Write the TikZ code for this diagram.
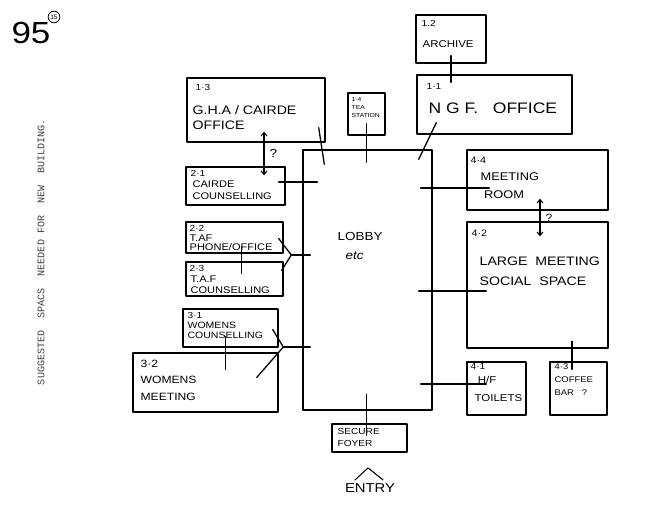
\documentclass[tikz,border=0pt]{standalone}
\usepackage{fontspec}
\setmainfont{Liberation Sans}
\newfontfamily\hand[FakeStretch=1.15]{Liberation Sans}
\newfontfamily\typew{Liberation Mono}
\usetikzlibrary{calc,fit,arrows.meta}
\begin{document}
\begin{tikzpicture}[x=0.03cm,y=-0.03cm,
  line width=1.1pt, line cap=round, line join=round,
  room/.style={draw, inner sep=0pt, line width=1.2pt},
  num/.style={anchor=north west, inner sep=0pt, font=\hand\fontsize{7.5}{8}\selectfont},
  lbl/.style={anchor=north west, inner sep=0pt, align=left},
  twoway/.style={{Straight Barb[length=3pt,width=5pt]}-{Straight Barb[length=3pt,width=5pt]}, line width=0.9pt}]
\fill[white] (0,0) rectangle (654,514);
\useasboundingbox (0,0) rectangle (654,514);

% page marks
\node[inner sep=0pt, font=\hand\fontsize{26}{26}\selectfont] (pg) at (31,33) {95};
\node[draw, circle, inner sep=1pt, line width=0.7pt, font=\fontsize{5.5}{5.5}\selectfont] (pgc) at (54,17) {15};
\node[rotate=90, inner sep=0pt, text=black!75, font=\typew\fontsize{8.6}{9}\selectfont] (title) at (41,252)
  {SUGGESTED\ \ SPACS\ \ NEEDED FOR\ \ NEW\ \ BUILDING.};

% rooms
\node[room, fit={(416,15)(486,63)}] (arch) {};
\node[room, fit={(417,75)(572,134)}] (ngf) {};
\node[room, fit={(187,78)(325,142)}] (gha) {};
\node[room, fit={(348,93)(385,135)}] (tea) {};
\node[room, fit={(303,150)(432,410)}] (lobby) {};
\node[room, fit={(186,167)(285,205)}] (c21) {};
\node[room, fit={(186,222)(283,253)}] (c22) {};
\node[room, fit={(186,262)(283,296)}] (c23) {};
\node[room, fit={(183,309)(278,347)}] (c31) {};
\node[room, fit={(133,353)(278,412)}] (c32) {};
\node[room, fit={(467,150)(608,210)}] (c44) {};
\node[room, fit={(467,222)(608,348)}] (c42) {};
\node[room, fit={(467,362)(526,415)}] (c41) {};
\node[room, fit={(550,362)(607,415)}] (c43) {};
\node[room, fit={(332,424)(407,452)}] (foyer) {};

% labels
\node[num] (arch-n) at (421,20) {1.2};
\node[lbl, font=\hand\fontsize{8.5}{10}\selectfont] (arch-t) at (422,40) {ARCHIVE};
\node[num] (ngf-n) at (426,83) {1·1};
\node[lbl, font=\hand\fontsize{13}{15}\selectfont] (ngf-t) at (428,102) {N G F.\ \ \ OFFICE};
\node[num] (gha-n) at (195,84) {1·3};
\node[lbl, font=\hand\fontsize{10.5}{12.8}\selectfont] (gha-t) at (192,105) {G.H.A / CAIRDE\\OFFICE};
\node[lbl, font=\hand\fontsize{5}{6.6}\selectfont] (tea-t) at (351,97) {1·4\\TEA\\STATION};
\node[num] (c21-n) at (190,170) {2·1};
\node[lbl, font=\hand\fontsize{8.2}{10.2}\selectfont] (c21-t) at (192,180) {CAIRDE\\COUNSELLING};
\node[num] (c22-n) at (189,225) {2·2};
\node[lbl, font=\hand\fontsize{8.2}{8}\selectfont] (c22-t) at (189,234) {T.AF\\PHONE/OFFICE};
\node[num] (c23-n) at (189,265) {2·3};
\node[lbl, font=\hand\fontsize{8.2}{9.4}\selectfont] (c23-t) at (190,275) {T.A.F\\COUNSELLING};
\node[num] (c31-n) at (187,312) {3·1};
\node[lbl, font=\hand\fontsize{7.8}{9}\selectfont] (c31-t) at (187,321) {WOMENS\\COUNSELLING};
\node[lbl, font=\hand\fontsize{9}{14.5}\selectfont] (c32-t) at (140,359) {3·2\\WOMENS\\MEETING};
\node[lbl, font=\hand\fontsize{8}{10}\selectfont] (c44-n) at (470,156) {4·4};
\node[lbl, font=\hand\fontsize{9.5}{15.5}\selectfont] (c44-t) at (480,172) {MEETING\\\ ROOM};
\node[lbl, font=\hand\fontsize{8}{10}\selectfont] (c42-n) at (471,229) {4·2};
\node[lbl, font=\hand\fontsize{10.5}{17}\selectfont] (c42-t) at (479,256) {LARGE\ \ MEETING\\SOCIAL\ \ SPACE};
\node[lbl, font=\hand\fontsize{7.5}{10}\selectfont] (c41-n) at (470,363) {4·1};
\node[lbl, font=\hand\fontsize{8.5}{15}\selectfont] (c41-t) at (474,376) {\ H/F\\TOILETS};
\node[lbl, font=\hand\fontsize{7}{11}\selectfont] (c43-t) at (554,363) {4·3\\COFFEE\\BAR\ \ \ ?};
\node[lbl, font=\hand\fontsize{7.5}{10}\selectfont] (foyer-t) at (337,428) {SECURE\\FOYER};
\node[lbl, font=\hand\fontsize{10}{12}\selectfont] (lobby-t) at (337,232) {LOBBY};
\node[lbl, font=\hand\itshape\fontsize{10}{12}\selectfont] (lobby-e) at (345,251) {etc};
\node[inner sep=0pt, font=\hand\fontsize{11}{12}\selectfont] (entry) at (370,488) {ENTRY};

% connectors
\draw ($(arch.south)+(0,-8)$) -- ($(arch.south |- ngf.north)+(0,8)$);
\draw ($(ngf.south west)+(20,-12)$) -- ($(lobby.north east)+(-14,10)$);
\draw ($(gha.south east)+(-7,-15)$) -- ($(lobby.north west)+(22,15)$);
\draw ($(tea.south)+(0,-12)$) -- ($(tea.south |- lobby.north)+(0,13)$);
\draw[twoway] ($(gha.south)+(8,-11)$) -- node[right=1pt, font=\hand\fontsize{10}{10}\selectfont] {?} ($(c21.north)+(28.5,9)$);
\draw ($(c21.east)+(-7,-4)$) -- ($(c21.east -| lobby.west)+(15,-4)$);
\coordinate (j1) at ($(lobby.west)+(-11,-25)$);
\draw ($(c22.east)+(-5,1)$) -- (j1);
\draw ($(c23.north east)+(-2,9)$) -- (j1);
\draw (j1) -- ($(lobby.west)+(8,-25)$);
\draw ($(c22.south)+(7,-7)$) -- ($(c23.north)+(7,12)$);
\coordinate (j2) at ($(lobby.west)+(-19,67)$);
\draw ($(c31.east)+(-6,1.5)$) -- (j2);
\draw ($(c32.east)+(-22,-5)$) -- (j2);
\draw (j2) -- ($(lobby.west)+(8,67)$);
\draw ($(c31.south)+(-5,-11)$) -- ($(c32.north)+(20,17)$);
\draw ($(c44.west -| lobby.east)+(-12,8)$) -- ($(c44.west)+(23,8)$);
\draw ($(c42.west -| lobby.east)+(-14,6)$) -- ($(c42.west)+(20,6)$);
\draw[twoway] ($(c44.south)+(2.5,-12)$) -- node[right=1pt, font=\hand\fontsize{9}{9}\selectfont] {?} ($(c42.north)+(2.5,15)$);
\draw ($(c41.west -| lobby.east)+(-12,-4.5)$) -- ($(c41.west)+(20,-4.5)$);
\draw ($(c43.north)+(-6.5,-20)$) -- ($(c43.north)+(-6.5,8)$);
\draw ($(foyer.north)+(-3,-29)$) -- ($(foyer.north)+(-3,12)$);
\draw[line width=0.9pt] ($(entry.north)+(-15,-3)$) -- ($(entry.north)+(-2,-15)$) -- ($(entry.north)+(13,-3)$);
\end{tikzpicture}
\end{document}
